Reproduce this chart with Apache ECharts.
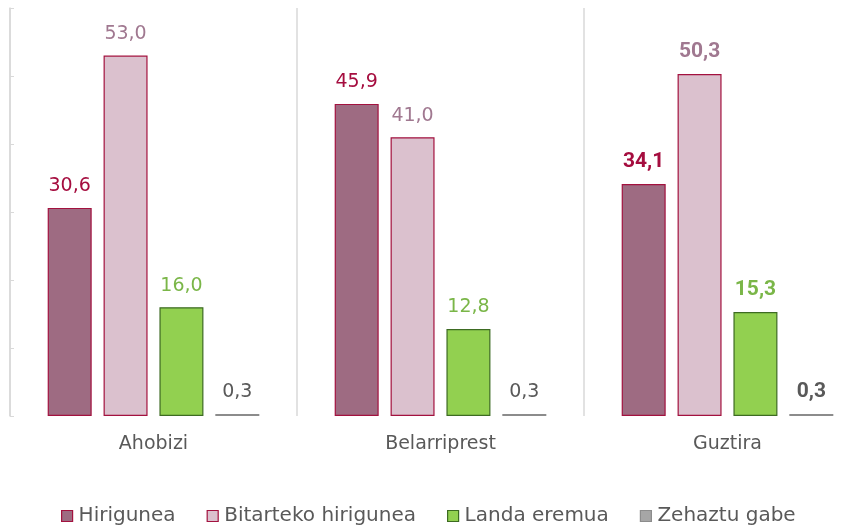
<!DOCTYPE html>
<html><head><meta charset="utf-8">
<script src="https://cdn.jsdelivr.net/npm/echarts@6/dist/echarts.min.js"></script>
<style>html,body{margin:0;padding:0;background:#fff;overflow:hidden}#c{width:871px;height:527px}</style>
</head><body><div id="c"></div>
<script>
const categories = ["Ahobizi", "Belarriprest", "Guztira"];
const seriesNames = ["Hirigunea", "Bitarteko hirigunea", "Landa eremua", "Zehaztu gabe"];
const hirigunea = [30.6, 45.9, 34.1];
const bitarteko = [53.0, 41.0, 50.3];
const landa = [16.0, 12.8, 15.3];
const zehaztu = [0.3, 0.3, 0.3];

const FONT = "DejaVu Sans";
const BOLDFONT = "Roboto";
const styles = [
  {fill: "#9E6B82", border: "#A3123F", label: "#A50D3F"},
  {fill: "#DBC1CE", border: "#A3123F", label: "#A07890"},
  {fill: "#92D050", border: "#3D6B22", label: "#7AB648"},
  {fill: "#A6A6A6", border: "#8C8C8C", label: "#595959"}
];
const values = [hirigunea, bitarteko, landa, zehaztu];

const series = values.map((vals, si) => ({
  name: seriesNames[si],
  type: "bar",
  barWidth: 44,
  barGap: "27%",
  itemStyle: {color: styles[si].fill, borderColor: styles[si].border, borderWidth: si === 3 ? 1.6 : 1.2},
  label: {
    show: true, position: "top", distance: 12,
    color: styles[si].label, fontFamily: FONT, fontSize: 19,
    formatter: p => p.value.toFixed(1).replace(".", ",")
  },
  data: vals.map((v, i) => i === 2 ? {value: v, label: {fontWeight: "bold", fontFamily: BOLDFONT, fontSize: 21}} : v)
}));

const chart = echarts.init(document.getElementById("c"));
chart.setOption({
  animation: false,
  textStyle: {fontFamily: FONT},
  grid: {left: 10, top: 8, right: 0, height: 408, containLabel: false},
  legend: {
    top: 501, left: 56, itemWidth: 11, itemHeight: 11, itemGap: 31,
    icon: "rect",
    textStyle: {fontFamily: FONT, fontSize: 20, color: "#595959", padding: [0, 0, 0, 1]},
    data: seriesNames.map((n, i) => ({name: n, itemStyle: {color: styles[i].fill, borderColor: styles[i].border, borderWidth: 1.2}}))
  },
  xAxis: {
    type: "category", data: categories,
    axisLine: {show: false}, axisTick: {show: false},
    splitLine: {show: true, lineStyle: {color: "#D9D9D9", width: 1.5}},
    axisLabel: {color: "#595959", fontFamily: FONT, fontSize: 19, margin: 19}
  },
  yAxis: {
    type: "value", min: 0, max: 60, interval: 10,
    axisLine: {show: true, lineStyle: {color: "#D9D9D9", width: 1.5}},
    axisTick: {show: true, inside: true, length: 4, lineStyle: {color: "#D9D9D9"}},
    axisLabel: {show: false}, splitLine: {show: false}
  },
  series: series
});
</script></body></html>
